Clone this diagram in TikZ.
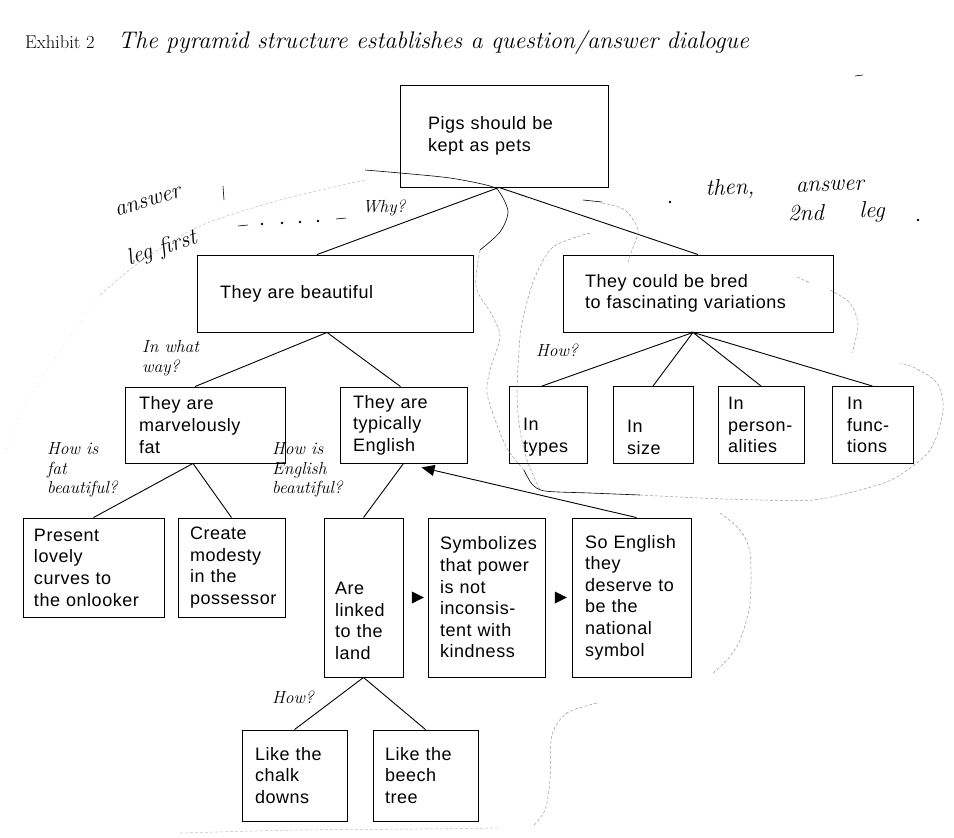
\documentclass[tikz,border=0pt]{standalone}
\usepackage{fontspec}
\usetikzlibrary{arrows.meta,calc,shapes.geometric}
\newfontfamily\boxfont[LetterSpace=3,WordSpace=1.4]{Liberation Sans}
\tikzset{
  block/.style={draw, line width=0.9pt, inner sep=0pt, align=left,
    font=\boxfont\fontsize{18}{21.6}\selectfont},
  ask/.style={align=left, inner sep=0pt, font=\fontsize{17.5}{19.5}\selectfont\itshape},
  link/.style={line width=0.9pt},
  pointer/.style={isosceles triangle, isosceles triangle stretches, fill=black,
    inner sep=0pt, minimum width=12pt, minimum height=12pt},
  hand/.style={inner sep=0pt, font=\fontsize{23}{26}\selectfont\itshape},
  pen/.style={line width=0.6pt},
  pencil/.style={black!40, line width=0.5pt, densely dashed}
}
\newcommand{\lowrows}[2]{\parbox[c][\dimexpr#1\baselineskip-6pt\relax][b]{\hsize}{#2}}

\begin{document}
\begin{tikzpicture}[x=1pt,y=-1pt]
		\useasboundingbox (0,0) rectangle (954,838);
		%%%%% HEADING %%%%%
		\node[anchor=base west, inner sep=0pt, font=\fontsize{18.5}{20}\selectfont] (exhibit) at (25,48) {Exhibit 2};
		\node[anchor=base west, inner sep=0pt, font=\fontsize{24}{26}\selectfont\itshape] (title) at (118,48)
			{The pyramid structure establishes a question/answer dialogue};
		
		%%%%% BOXES %%%%%
		\node[block, minimum width=208pt, minimum height=102pt, text width=152pt] (pigs) at (504,136) {Pigs should be\\kept as pets};
		
		\node[block, minimum width=276pt, minimum height=77pt, text width=230pt] (beauty) at (335,293.5) {They are beautiful};
		\node[block, minimum width=270pt, minimum height=77pt, text width=226pt] (bred) at (698,293.5) {They could be bred\\to fascinating variations};
		
		\node[block, minimum width=160pt, minimum height=76pt, text width=132pt] (fat) at (205,425) {They are\\marvelously\\fat};
		\node[block, minimum width=127pt, minimum height=76pt, text width=101pt] (english) at (403.5,425) {They are\\typically\\English};
		
		\node[block, minimum width=78pt, minimum height=77pt, text width=50pt] (types) at (548,425) {\lowrows{3}{In\\types}};
		\node[block, minimum width=80pt, minimum height=77pt, text width=52pt] (size) at (653,425) {\lowrows{3}{In\\size}};
		\node[block, minimum width=86pt, minimum height=77pt, text width=66pt] (pers) at (761,425) {In\\person-\\alities};
		\node[block, minimum width=81pt, minimum height=77pt, text width=51pt] (func) at (872.5,425) {In\\func-\\tions};
		
		\node[block, minimum width=141pt, minimum height=99pt, text width=119pt] (present) at (93.5,567.5) {Present\\lovely\\curves to\\the onlooker};
		\node[block, minimum width=107pt, minimum height=99pt, text width=83pt] (create) at (231.5,567.5) {Create\\modesty\\in the\\possessor};
		
		\node[block, minimum width=79pt, minimum height=159pt, text width=57pt] (land) at (363.5,597.5) {\lowrows{6}{Are\\linked\\to the\\land}};
		\node[block, minimum width=117pt, minimum height=159pt, text width=93pt] (symb) at (486.5,597.5) {Symbolizes\\that power\\is not\\inconsis-\\tent with\\kindness};
		\node[block, minimum width=119pt, minimum height=159pt, text width=93pt] (so) at (631.5,597.5) {So English\\they\\deserve to\\be the\\national\\symbol};
		
		\node[block, minimum width=105pt, minimum height=91pt, text width=79pt] (chalk) at (294.5,775.5) {Like the\\chalk\\downs};
		\node[block, minimum width=105pt, minimum height=91pt, text width=81pt] (beech) at (425.5,775.5) {Like the\\beech\\tree};
		
		%%%%% CONNECTORS %%%%%
		\draw[link] ([xshift=-18pt]beauty.north) -- ([xshift=-5pt]pigs.south) -- (bred.north);
		\draw[link] ([xshift=-10pt]fat.north) -- ([xshift=-8pt]beauty.south) -- ([xshift=-3pt]english.north);
		\draw[link] (present.north) -- ([xshift=-12pt]fat.south) -- (create.north);
		\draw[link] (english.south) -- (land.north);
		\draw[link] ([xshift=-6pt]types.north) -- ([xshift=-5pt]bred.south) -- (size.north);
		\draw[link] (pers.north) -- ([xshift=-5pt]bred.south) -- (func.north);
		\draw[link] (chalk.north) -- (land.south) -- (beech.north);
		\draw[link,-{Triangle[length=13pt,width=11pt]}] ([xshift=5pt]so.north) -- ([xshift=18pt,yshift=-4pt]english.south);
		
		\node[pointer] (step1) at ($(land.east)!0.5!(symb.west)$) {};
		\node[pointer] (step2) at ($(symb.east)!0.5!(so.west)$) {};
		
		%%%%% QUESTIONS %%%%%
		\node[ask] (why) at (384,208) {Why?};
		\node[ask, anchor=west] (whatway) at (142,358) {In what\\way?};
		\node[ask, anchor=west] (fatq) at (47,470) {How is\\fat\\beautiful?};
		\node[ask, anchor=west] (engq) at (272,470) {How is\\English\\beautiful?};
		\node[ask, anchor=west] (howbred) at (536,350) {How?};
		\node[ask, anchor=west] (howland) at (272,697) {How?};
		
		%%%%% NOTES IN THE MARGIN %%%%%
		\node[hand, rotate=17] (note1) at (148,202) {answer};
		\node[hand, rotate=18] (note2) at (162,249) {leg first};
		\node[hand, rotate=2] (note3a) at (730,189) {then,};
		\node[hand, rotate=2] (note3b) at (830,186) {answer};
		\node[hand] (note4a) at (806,213) {2nd};
		\node[hand] (note4b) at (872,212) {leg};
		\draw[pen] (223,186) -- (224,200);
		\draw[pen] (238,226) -- (248,225);
		\foreach \x/\y in {262/224, 282/223, 300/222, 318/221, 670/202, 918/220}
			\fill (\x,\y) circle (1.3);
		\draw[pen] (336,219) -- (346,218);
		\draw[pen] (855,76) -- (863,75);
		
		% pen strokes
		\draw[pen] plot[smooth] coordinates {(365,170) (400,173) (450,178) (490,186) (500,193) (508,212) (500,232) (480,250)};
		\draw[pen] plot[smooth] coordinates {(524,470) (532,484) (545,491) (590,493) (640,495)};
		\draw[pen] (583,200) -- (602,202);
		
		% pencil loops
		\draw[pencil] plot[smooth] coordinates {(480,250) (476,287) (492,315) (500,337) (490,370) (487,393) (497,425) (508,450) (524,470)};
		\draw[pencil] plot[smooth] coordinates {(590,233) (553,247) (535,277) (525,310) (520,337) (517,393) (520,430) (527,460) (540,490)};
		\draw[pencil] plot[smooth] coordinates {(602,203) (625,210) (638,230) (632,250) (628,262)};
		\draw[pencil] plot[smooth] coordinates {(797,277) (810,283)};
		\draw[pencil] plot[smooth] coordinates {(830,290) (850,303) (858,325) (852,353)};
		\draw[pencil] plot[smooth] coordinates {(640,495) (700,498) (760,500) (813,500) (860,490) (895,478) (930,450) (943,410) (937,383) (915,368) (900,363)};
		\draw[pencil] plot[smooth] coordinates {(720,513) (740,530) (750,553) (750,603) (740,640) (727,660) (713,673)};
		\draw[pencil] plot[smooth] coordinates {(597,703) (567,713) (552,735) (550,780) (545,810) (533,826)};
		\draw[pencil, black!25] plot[smooth] coordinates {(365,180) (280,200) (200,226) (140,262) (100,295)};
		\draw[pencil, black!20, loosely dotted] plot[smooth] coordinates {(100,295) (75,330) (40,380) (18,420) (5,455)};
		\draw[pencil, black!25] plot[smooth] coordinates {(180,833) (300,830) (420,829) (500,828)};
\end{tikzpicture}
\end{document}
